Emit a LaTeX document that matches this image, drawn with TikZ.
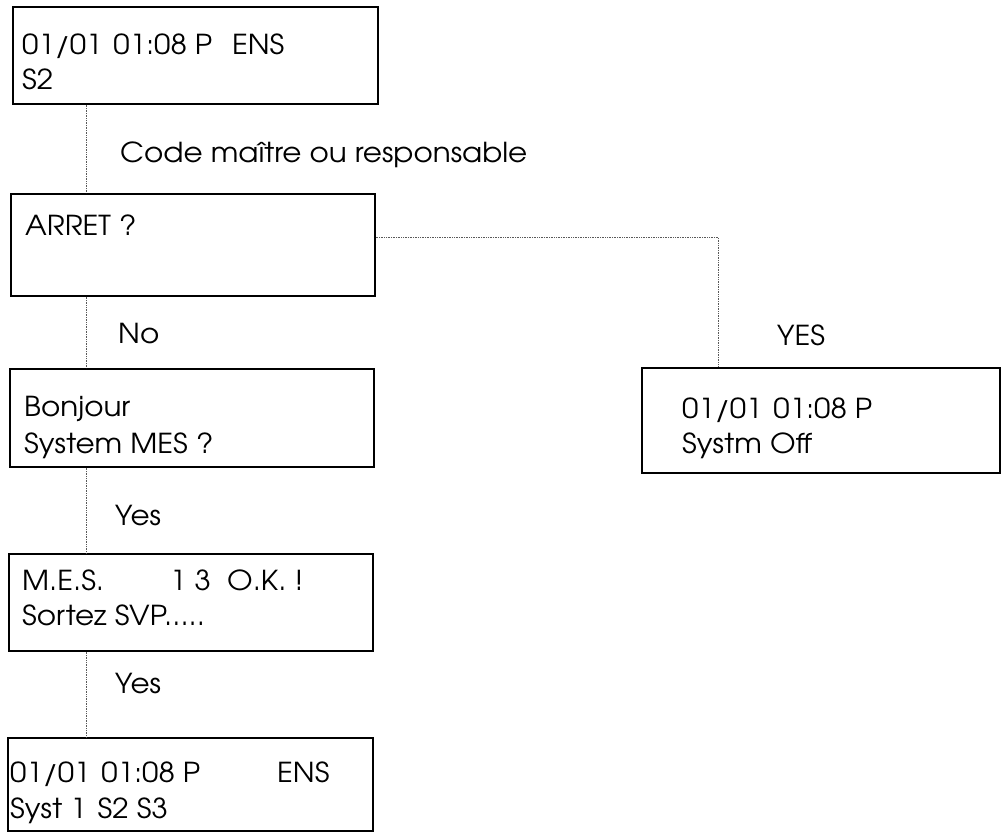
\documentclass[tikz,border=0pt]{standalone}
\usepackage{fontspec}
\setmainfont{TeX Gyre Adventor}[FakeStretch=1.07]
\begin{document}
\begin{tikzpicture}[x=1pt,y=-1pt,
  box/.style={draw, line width=1.6pt, inner sep=0pt, anchor=north west},
  txt/.style={anchor=base west, inner sep=0pt, font=\fontsize{27.5}{32}\selectfont},
  link/.style={draw=black!65, line width=0.7pt, densely dotted}]
\useasboundingbox (0,0) rectangle (1001,832);
% boxes
\node[box, minimum width=365pt, minimum height=97pt]  (b1) at (12,6)   {};
\node[box, minimum width=364pt, minimum height=102pt] (b2) at (10,193) {};
\node[box, minimum width=364pt, minimum height=98pt]  (b3) at (9,368)  {};
\node[box, minimum width=364pt, minimum height=97pt]  (b4) at (8,553)  {};
\node[box, minimum width=365pt, minimum height=93pt]  (b5) at (7,737)  {};
\node[box, minimum width=358pt, minimum height=105pt] (br) at (641,367) {};
% box texts
\node[txt] (t1a) at (22,55)  {01/01\hspace{11pt}01:08 P};
\node[txt] (t1c) at (232,55) {ENS};
\node[txt] (t1d) at (22,90)  {S2};
\node[txt] (t2a) at (25,235) {ARRET ?};
\node[txt] (t3a) at (24,416) {Bonjour};
\node[txt] (t3b) at (24,453) {System MES ?};
\node[txt] (t4a) at (22,590) {M.E.S.};
\node[txt] (t4b) at (170,590) {1 3};
\node[txt] (t4c) at (227,590) {O.K. !};
\node[txt] (t4d) at (22,625) {Sortez SVP.....};
\node[txt] (t5a) at (10,782) {01/01\hspace{11pt}01:08 P};
\node[txt] (t5c) at (277,782) {ENS};
\node[txt] (t5d) at (10,818) {Syst 1\hspace{11pt}S2 S3};
\node[txt] (tra) at (682,418) {01/01\hspace{11pt}01:08 P};
\node[txt] (trc) at (682,453) {Systm Off};
% connector labels
\node[txt] (l1) at (120,162) {Code maître ou responsable};
\node[txt] (l2) at (118,343) {No};
\node[txt] (l3) at (777,345) {YES};
\node[txt] (l4) at (115,525) {Yes};
\node[txt] (l5) at (115,693) {Yes};
% connectors
\coordinate (spine) at (86,0);
\coordinate (turn) at (718,237);
\draw[link] (b1.south -| spine) -- (b2.north -| spine);
\draw[link] (b2.south -| spine) -- (b3.north -| spine);
\draw[link] (b3.south -| spine) -- (b4.north -| spine);
\draw[link] (b4.south -| spine) -- (b5.north -| spine);
\draw[link] (b2.east |- turn) -- (turn) -- (br.north -| turn);
\end{tikzpicture}
\end{document}
